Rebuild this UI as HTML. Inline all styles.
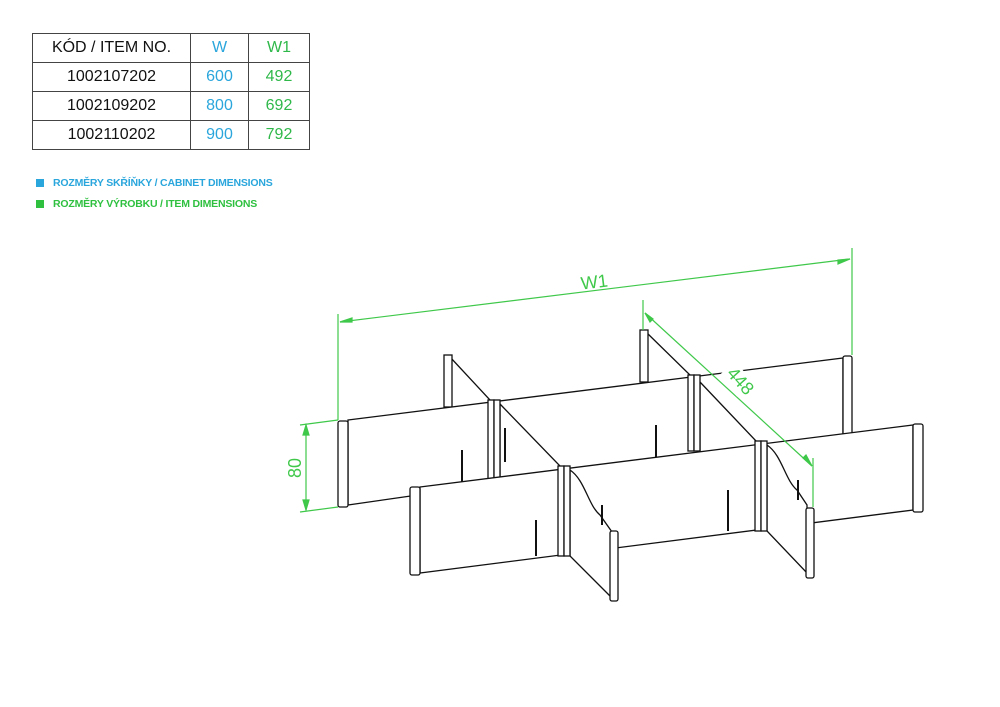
<!DOCTYPE html>
<html><head><meta charset="utf-8"><style>
body{margin:0;background:#fff;width:1000px;height:707px;overflow:hidden;position:relative;font-family:"Liberation Sans",sans-serif}
table{position:absolute;left:32px;top:33px;border-collapse:collapse}
td{border:1px solid #444;height:28px;padding:0;text-align:center;font-size:16px;color:#111}
.b{color:#2aa6dc}.g{color:#2fb84a}
.leg{position:absolute;left:36px;font-size:10.5px;font-weight:bold;letter-spacing:-0.2px}
.leg span{display:inline-block;width:8px;height:8px;margin-right:9px;vertical-align:-1px}
</style></head><body>
<table>
<tr><td style="width:157px">KÓD / ITEM NO.</td><td class="b" style="width:57px">W</td><td class="g" style="width:60px">W1</td></tr>
<tr><td>1002107202</td><td class="b">600</td><td class="g">492</td></tr>
<tr><td>1002109202</td><td class="b">800</td><td class="g">692</td></tr>
<tr><td>1002110202</td><td class="b">900</td><td class="g">792</td></tr>
</table>
<div class="leg" style="top:177px;color:#2aa6dc"><span style="background:#2aa6dc"></span>ROZMĚRY SKŘÍŇKY / CABINET DIMENSIONS</div>
<div class="leg" style="top:198px;color:#2fc040"><span style="background:#2fc040"></span>ROZMĚRY VÝROBKU / ITEM DIMENSIONS</div>
<svg width="1000" height="707" style="position:absolute;left:0;top:0" fill="none">
<g stroke="#111" stroke-width="1.3" fill="#fff">
<!-- back cross parts -->
<polygon points="450,357 490,400 490,480 450,405"/>
<polygon points="646,332 690,375 690,450 646,380"/>
<rect x="444" y="355" width="8" height="52"/>
<rect x="640" y="330" width="8" height="52"/>
<!-- back long panel -->
<polygon points="348,420 843,358 843,434 348,505"/>
<line x1="462" y1="450" x2="462" y2="490" stroke-width="2"/>
<line x1="656" y1="425" x2="656" y2="460" stroke-width="2"/>
<!-- middle cross parts -->
<polygon points="500,404 560,466 560,540 500,486"/>
<polygon points="700,382 757,442 757,520 700,452"/>
<line x1="505" y1="428" x2="505" y2="462" stroke-width="2"/>
<rect x="338" y="421" width="10" height="86" rx="2"/>
<rect x="843" y="356" width="9" height="84" rx="2"/>
<rect x="488" y="400" width="6" height="86"/><rect x="494" y="400" width="6" height="86"/>
<rect x="688" y="375" width="6" height="76"/><rect x="694" y="375" width="6" height="76"/>
<!-- front long panel -->
<polygon points="420,487 913,425 913,510 420,573"/>
<line x1="536" y1="520" x2="536" y2="556" stroke-width="2"/>
<line x1="728" y1="490" x2="728" y2="531" stroke-width="2"/>
<rect x="410" y="487" width="10" height="88" rx="2"/>
<rect x="913" y="424" width="10" height="88" rx="2"/>
<!-- front cross parts -->
<path d="M570,470 C585,480 588,505 600,515 L612,532 L612,598 L570,556 Z"/>
<line x1="602" y1="505" x2="602" y2="525" stroke-width="2"/>
<path d="M767,445 C782,455 785,480 797,490 L807,505 L807,573 L767,531 Z"/>
<line x1="798" y1="480" x2="798" y2="500" stroke-width="2"/>
<rect x="558" y="466" width="6" height="90"/><rect x="564" y="466" width="6" height="90"/>
<rect x="755" y="441" width="6" height="90"/><rect x="761" y="441" width="6" height="90"/>
<rect x="610" y="531" width="8" height="70" rx="2"/>
<rect x="806" y="508" width="8" height="70" rx="2"/>
</g>
<g stroke="#3fc84a" stroke-width="1.2">
<line x1="338" y1="314" x2="338" y2="420"/><line x1="852" y1="248" x2="852" y2="355"/>
<line x1="340" y1="322" x2="850" y2="259"/>
<polygon points="340,322 352,318 352,322" fill="#3fc84a"/><polygon points="850,259 838,260 838,264" fill="#3fc84a"/>
<line x1="643" y1="300" x2="643" y2="330"/>
<line x1="645" y1="313" x2="812" y2="466"/>
<polygon points="645,313 650,322 653,319" fill="#3fc84a"/><polygon points="812,466 803,458 806,455" fill="#3fc84a"/>
<line x1="813" y1="458" x2="813" y2="507"/>
<line x1="300" y1="425" x2="338" y2="420"/><line x1="300" y1="512" x2="338" y2="507"/>
<line x1="306" y1="425" x2="306" y2="510"/>
<polygon points="306,425 303,435 309,435" fill="#3fc84a"/><polygon points="306,510 303,500 309,500" fill="#3fc84a"/>
</g>
<rect x="722" y="368" width="28" height="22" fill="#fff" transform="rotate(48 736 379)"/>
<text x="595" y="288" fill="#3fc84a" font-size="18" font-family="Liberation Sans" transform="rotate(-7 595 288)" text-anchor="middle">W1</text>
<text x="736" y="385" fill="#3fc84a" font-size="18" font-family="Liberation Sans" transform="rotate(48 736 385)" text-anchor="middle">448</text>
<text x="301" y="468" fill="#3fc84a" font-size="18" font-family="Liberation Sans" transform="rotate(-90 301 468)" text-anchor="middle">80</text>
</svg>
</body></html>
